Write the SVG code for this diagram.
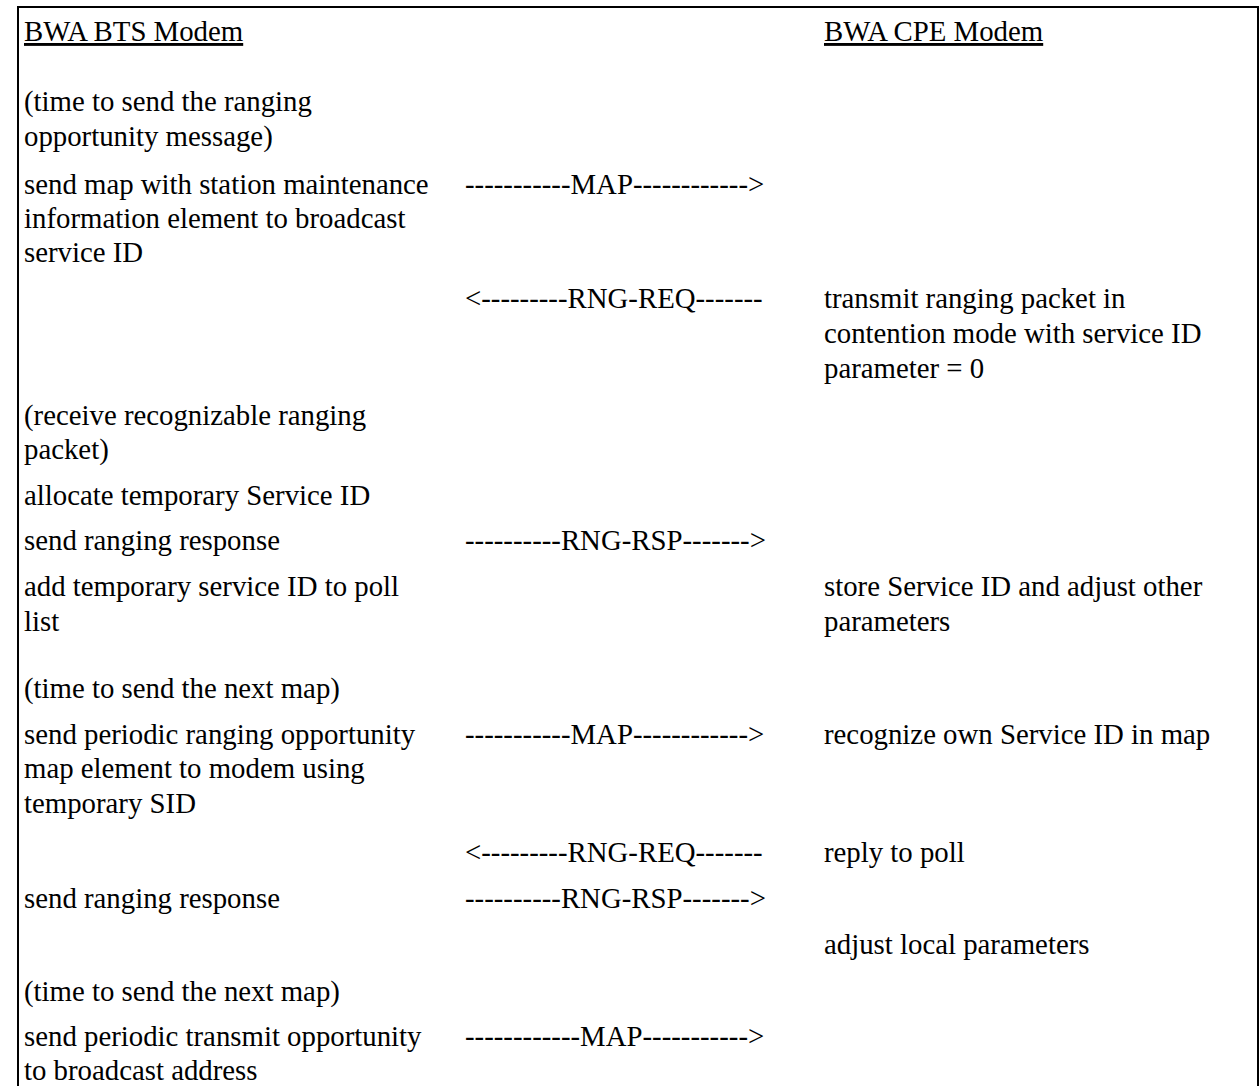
<svg xmlns="http://www.w3.org/2000/svg" width="1260" height="1086" viewBox="0 0 1260 1086">
  <style>
    text { font-family: "Liberation Serif", "Times New Roman", serif; font-size: 28.8px; fill: #000; }
    .hdr { text-decoration: underline; }
    .frame { stroke: #000; stroke-width: 2; fill: none; }
  </style>
  <rect x="0" y="0" width="1260" height="1086" fill="#fff"/>
  <!-- open frame: top, left and right rules -->
  <path class="frame" d="M18,1086 V7 H1258 V1086"/>

  <g id="bts-header"><text class="hdr" x="24" y="41">BWA BTS Modem</text></g>
  <g id="cpe-header"><text class="hdr" x="824" y="41">BWA CPE Modem</text></g>

  <!-- BTS side steps -->
  <g id="bts-1"><text x="24" y="111">(time to send the ranging</text><text x="24" y="146">opportunity message)</text></g>
  <g id="bts-2"><text x="24" y="194">send map with station maintenance</text><text x="24" y="228">information element to broadcast</text><text x="24" y="262">service ID</text></g>
  <g id="bts-3"><text x="24" y="425">(receive recognizable ranging</text><text x="24" y="459">packet)</text></g>
  <g id="bts-4"><text x="24" y="505">allocate temporary Service ID</text></g>
  <g id="bts-5"><text x="24" y="550">send ranging response</text></g>
  <g id="bts-6"><text x="24" y="596">add temporary service ID to poll</text><text x="24" y="631">list</text></g>
  <g id="bts-7"><text x="24" y="698">(time to send the next map)</text></g>
  <g id="bts-8"><text x="24" y="744">send periodic ranging opportunity</text><text x="24" y="778">map element to modem using</text><text x="24" y="813">temporary SID</text></g>
  <g id="bts-9"><text x="24" y="908">send ranging response</text></g>
  <g id="bts-10"><text x="24" y="1001">(time to send the next map)</text></g>
  <g id="bts-11"><text x="24" y="1046">send periodic transmit opportunity</text><text x="24" y="1080">to broadcast address</text></g>

  <!-- CPE side steps -->
  <g id="cpe-1"><text x="824" y="308">transmit ranging packet in</text><text x="824" y="343">contention mode with service ID</text><text x="824" y="378">parameter = 0</text></g>
  <g id="cpe-2"><text x="824" y="596">store Service ID and adjust other</text><text x="824" y="631">parameters</text></g>
  <g id="cpe-3"><text x="824" y="744">recognize own Service ID in map</text></g>
  <g id="cpe-4"><text x="824" y="862">reply to poll</text></g>
  <g id="cpe-5"><text x="824" y="954">adjust local parameters</text></g>

  <!-- messages exchanged between the modems -->
  <g id="connectors">
    <text x="465" y="194">-----------MAP------------&gt;</text>
    <text x="465" y="308">&lt;---------RNG-REQ-------</text>
    <text x="465" y="550">----------RNG-RSP-------&gt;</text>
    <text x="465" y="744">-----------MAP------------&gt;</text>
    <text x="465" y="862">&lt;---------RNG-REQ-------</text>
    <text x="465" y="908">----------RNG-RSP-------&gt;</text>
    <text x="465" y="1046">------------MAP-----------&gt;</text>
  </g>
</svg>
